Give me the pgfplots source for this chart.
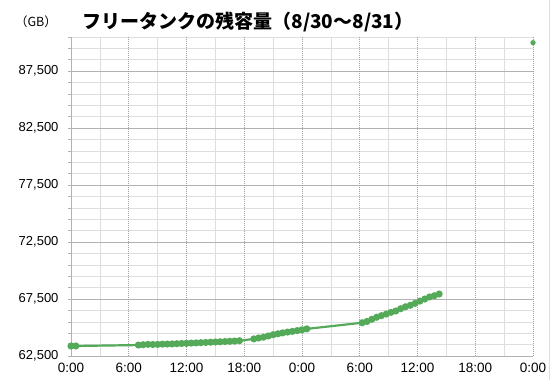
\documentclass[border=0pt]{standalone}
\usepackage{fontspec}
\setmainfont{Liberation Sans}
\newfontfamily\cjk{Noto Sans CJK JP}
\usepackage{pgfplots}
\pgfplotsset{compat=1.18}
\definecolor{lg}{RGB}{84,170,88}
\definecolor{gmin}{RGB}{222,222,222}
\definecolor{gmaj}{RGB}{178,178,178}
\definecolor{gdash}{RGB}{160,160,160}
\begin{document}
\begin{tikzpicture}
\path[use as bounding box, fill=white] (-71pt,-24pt) rectangle (484pt,356pt);
\draw[gmin, line width=0.8pt] (478pt,-24pt) -- (478pt,356pt);
\begin{axis}[
  at={(0,0)}, anchor=south west,
  scale only axis, width=462pt, height=319pt,
  xmin=0, xmax=48, ymin=62500, ymax=90500,
  axis lines=left, axis line style={-, draw=gmaj, line width=0.6pt},
  clip=false,
  xtick={0,6,...,48},
  xticklabels={0:00,6:00,12:00,18:00,0:00,6:00,12:00,18:00,0:00},
  minor xtick={3,9,...,45},
  ytick={62500,67500,...,87500},
  minor ytick={63500,64500,...,90500},
  xminorgrids=true, yminorgrids=true, ymajorgrids=true, xmajorgrids=false,
  minor grid style={gmin, line width=0.6pt},
  major grid style={gmaj, line width=0.6pt},
  extra x ticks={6,12,...,48},
  extra x tick labels={},
  extra x tick style={grid=major, major grid style={gdash, dash pattern=on 1pt off 1pt, line width=0.6pt}, major tick length=0pt},
  tick align=outside,
  major tick length=3pt, minor tick length=3pt,
  tick style={gmaj, line width=0.6pt},
  xtick style={draw=none},
  /pgf/number format/assume math mode=true,
  yticklabel style={font=\fontsize{13}{15}\selectfont, xshift=-6pt, /pgf/number format/.cd, fixed, 1000 sep={,}},
  xticklabel style={font=\fontsize{13.5}{15}\selectfont, yshift=-1pt},
  scaled y ticks=false,
]
\addplot[lg, line width=2.2pt, mark=*, mark size=2.4pt, mark options={solid, fill=lg}] coordinates {
(0,63380) (0.5,63380) (7,63460) (7.5,63490) (8,63520) (8.5,63510) (9,63520) (9.5,63540) (10,63550) (10.5,63560) (11,63580) (11.5,63600) (12,63610) (12.5,63630) (13,63650) (13.5,63670) (14,63690) (14.5,63710) (15,63730) (15.5,63750) (16,63770) (16.5,63790) (17,63810) (17.5,63840) (19,64000) (19.5,64080) (20,64150) (20.5,64260) (21,64370) (21.5,64450) (22,64530) (22.5,64600) (23,64660) (23.5,64730) (24,64800) (24.5,64880) (30.25,65420) (30.75,65530) (31.25,65720) (31.75,65900) (32.25,66040) (32.75,66180) (33.25,66330) (33.75,66450) (34.25,66650) (34.75,66820) (35.25,66950) (35.75,67120) (36.25,67320) (36.75,67500) (37.25,67680) (37.75,67790) (38.25,67940)
};
\addplot[only marks, lg, mark=*, mark size=2.4pt, mark options={fill=lg}] coordinates {(48,90000)};
\end{axis}
\node[font=\cjk\bfseries\fontsize{19}{22}\selectfont, anchor=center] at (177pt,334pt) {フリータンクの残容量（8/30〜8/31）};
\node[font=\cjk\fontsize{12.5}{14}\selectfont, anchor=center] at (-35pt,334pt) {（GB）};
\end{tikzpicture}
\end{document}
